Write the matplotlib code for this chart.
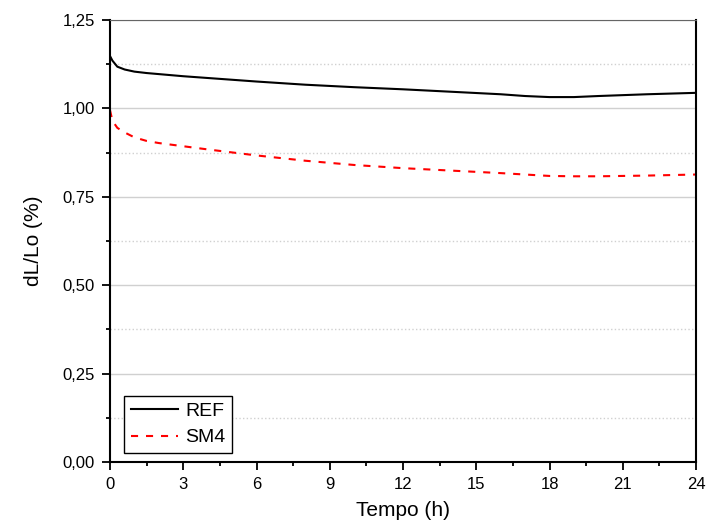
import matplotlib
matplotlib.use("Agg")
import matplotlib.pyplot as plt
from matplotlib.ticker import MultipleLocator, FuncFormatter

plt.rcParams['font.family'] = ['Liberation Sans', 'DejaVu Sans']

t_ref = [0, 0.1, 0.3, 0.6, 1, 1.5, 2, 3, 4, 6, 8, 10, 12, 14, 16, 17, 18, 19, 20, 22, 24]
ref = [1.148, 1.135, 1.118, 1.110, 1.104, 1.100, 1.097, 1.091, 1.086, 1.076, 1.067, 1.060, 1.054, 1.047, 1.040, 1.035, 1.032, 1.032, 1.035, 1.040, 1.044]

t_sm4 = [0, 0.1, 0.3, 0.6, 1, 1.5, 2, 3, 4, 6, 8, 10, 12, 14, 16, 17, 18, 19, 20, 22, 24]
sm4 = [0.995, 0.965, 0.945, 0.932, 0.918, 0.908, 0.902, 0.893, 0.884, 0.867, 0.852, 0.840, 0.831, 0.824, 0.817, 0.813, 0.809, 0.808, 0.808, 0.810, 0.813]

fig = plt.figure(figsize=(7.06, 5.29), dpi=100)
ax = fig.add_axes([110/706, 1 - 462/529, 586/706, 442/529])

ax.plot(t_ref, ref, color='black', lw=1.5, label='REF')
ax.plot(t_sm4, sm4, color='red', lw=1.5, ls=(0, (3.4, 3.8)), label='SM4')

ax.set_xlim(0, 24)
ax.set_ylim(0, 1.25)
ax.xaxis.set_major_locator(MultipleLocator(3))
ax.xaxis.set_minor_locator(MultipleLocator(1.5))
ax.yaxis.set_major_locator(MultipleLocator(0.25))
ax.yaxis.set_minor_locator(MultipleLocator(0.125))
ax.yaxis.set_major_formatter(FuncFormatter(lambda v, p: f"{v:.2f}".replace('.', ',')))

ax.grid(axis='y', which='major', color='#d0d0d0', lw=1, ls='-')
ax.grid(axis='y', which='minor', color='#d0d0d0', lw=1, ls=':')
ax.set_axisbelow(True)

ax.tick_params(which='both', direction='out', top=False, right=False, width=1.3, labelsize=12)
ax.tick_params(which='major', length=6, pad=5)
ax.tick_params(which='minor', length=3)
for s in ['left', 'bottom', 'right']:
    ax.spines[s].set_linewidth(1.5)
ax.spines['top'].set_linewidth(0.8)
ax.spines['top'].set_color('#666666')

ax.set_xlabel('Tempo (h)', fontsize=15, labelpad=6)
ax.set_ylabel('dL/Lo (%)', fontsize=15, labelpad=14)

leg = ax.legend(loc='lower left', bbox_to_anchor=(0.024, 0.02), fontsize=14, fancybox=False,
                edgecolor='black', framealpha=1, handlelength=2.4, borderaxespad=0,
                handletextpad=0.4, labelspacing=0.45, borderpad=0.35)
leg.get_frame().set_linewidth(1)

fig.savefig('out.png', dpi=100)
